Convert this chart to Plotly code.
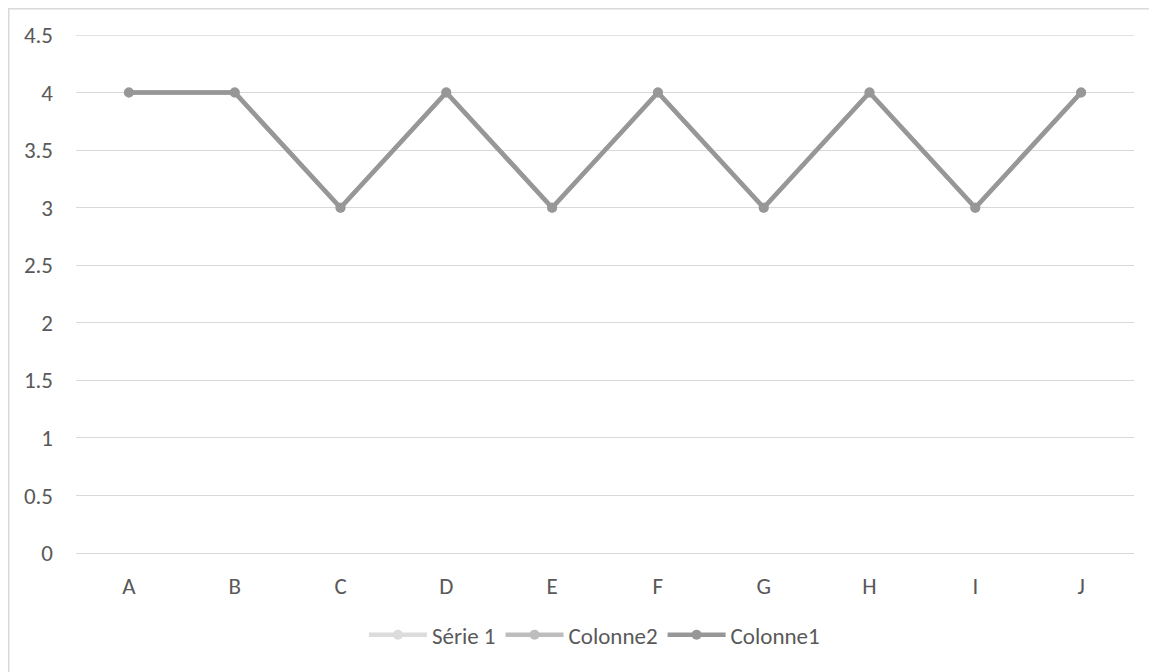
import plotly.graph_objects as go

categories = ["A", "B", "C", "D", "E", "F", "G", "H", "I", "J"]
serie1 = [4, 4, 3, 4, 3, 4, 3, 4, 3, 4]
colonne2 = [4, 4, 3, 4, 3, 4, 3, 4, 3, 4]
colonne1 = [4, 4, 3, 4, 3, 4, 3, 4, 3, 4]
y_ticks = [0, 0.5, 1, 1.5, 2, 2.5, 3, 3.5, 4, 4.5]
y_ticklabels = ["0", "0.5", "1", "1.5", "2", "2.5", "3", "3.5", "4", "4.5"]

font_family = "Calibri, Carlito, Lato, 'Open Sans', sans-serif"
text_color = "#595959"
grid_color = "#d9d9d9"

fig = go.Figure()
for name, vals, color in [
    ("Série 1", serie1, "#dcdcdc"),
    ("Colonne2", colonne2, "#bdbdbd"),
    ("Colonne1", colonne1, "#979797"),
]:
    fig.add_trace(go.Scatter(
        x=categories, y=vals, name=name, mode="lines+markers",
        line=dict(color=color, width=4.5),
        marker=dict(color=color, size=10),
    ))

# page body has an 8px default margin -> compensate
OFF = 8
W, H = 1157 - OFF, 672 - OFF
L, R, T, B = 76 - OFF, 23, 35 - OFF, 119
pw, ph = W - L - R, H - T - B

fig.update_layout(
    width=W, height=H,
    margin=dict(l=L, r=R, t=T, b=B, pad=0),
    paper_bgcolor="white", plot_bgcolor="white",
    font=dict(family=font_family, size=23, color=text_color),
    showlegend=True,
    legend=dict(orientation="h", x=0.49, xanchor="center", y=-0.158, yanchor="middle",
                font=dict(size=23, color=text_color), itemwidth=58,
                traceorder="normal", bgcolor="rgba(0,0,0,0)"),
    xaxis=dict(showgrid=False, zeroline=False, showline=False, ticks="",
               ticklabelstandoff=17, range=[-0.5, 9.5], fixedrange=True),
    yaxis=dict(range=[0, 4.5], tickvals=y_ticks, ticktext=y_ticklabels,
               showgrid=True, gridcolor=grid_color, gridwidth=1.3,
               zeroline=True, zerolinecolor=grid_color, zerolinewidth=1.3,
               showline=False, ticks="", ticklabelstandoff=22),
    shapes=[
        dict(type="line", xref="paper", yref="y", x0=0, x1=1, y0=4.5, y1=4.5,
             line=dict(color=grid_color, width=1.3), layer="below"),
        dict(type="rect", xref="paper", yref="paper",
             x0=(0.75 - L) / pw, x1=1.2, y0=-0.5, y1=1 + (T - 0.75) / ph,
             line=dict(color=grid_color, width=1.5), fillcolor="rgba(0,0,0,0)", layer="below"),
    ],
)

fig.write_html("out.html")
